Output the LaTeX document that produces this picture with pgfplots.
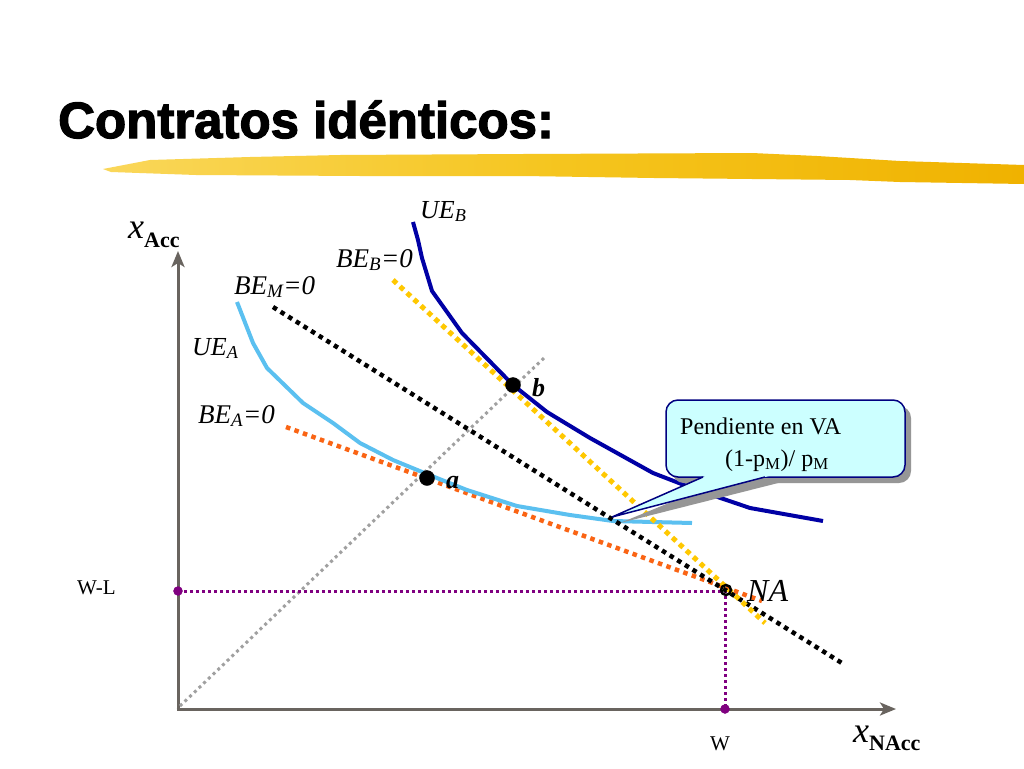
\documentclass[border=0pt]{standalone}
\usepackage{fontspec}
\setmainfont{Liberation Serif}
\newfontfamily\titlefont[FakeBold=2.4]{Liberation Sans}
\usepackage{pgfplots}
\pgfplotsset{compat=1.18}
\usetikzlibrary{arrows.meta}
\definecolor{axisgray}{RGB}{105,100,95}
\definecolor{ueA}{RGB}{91,192,240}
\definecolor{ueB}{RGB}{0,0,165}
\definecolor{beB}{RGB}{255,200,0}
\definecolor{beA}{RGB}{250,100,20}
\definecolor{purp}{RGB}{128,0,128}
\definecolor{diag}{RGB}{160,160,160}
\definecolor{callfill}{RGB}{204,255,255}
\definecolor{callnavy}{RGB}{0,0,128}
\definecolor{shadowgray}{RGB}{150,150,150}
\definecolor{brushL}{RGB}{250,215,90}
\definecolor{brushM}{RGB}{245,197,30}
\definecolor{brushR}{RGB}{240,178,0}
\begin{document}
\begin{tikzpicture}
\begin{axis}[width=1024pt,height=768pt,scale only axis,
  xmin=0,xmax=1024,ymin=0,ymax=768,y dir=reverse,hide axis,clip=false]
% background
\addplot[fill=white,draw=none] coordinates {(0,0) (1024,0) (1024,768) (0,768)} -- cycle;
% brush stroke
\addplot[draw=none,left color=brushL,right color=brushR,middle color=brushM] coordinates {
(103,169) (150,160) (250,157) (340,155) (523,154) (752,153) (817,156) (900,161) (1024,165)
(1024,184) (900,182) (850,180) (654,178) (523,176) (360,176) (196,175) (111,172)} -- cycle;
% axes
\addplot[axisgray,line width=3pt,-{Stealth[length=16pt,width=13pt,inset=4pt]}] coordinates {(178,710.5) (178,251)};
\addplot[axisgray,line width=3pt,-{Stealth[length=16pt,width=13pt,inset=4pt]}] coordinates {(176.5,709) (896,709)};
% 45 degree line
\addplot[diag,line width=3pt,dash pattern=on 3pt off 3.5pt] coordinates {(180,706) (545,357)};
% W-L and W guide lines
\addplot[purp,line width=3pt,dash pattern=on 3pt off 3pt] coordinates {(178,591) (725,591) (725,709)};
% BE_A = 0
\addplot[beA,line width=4.5pt,dash pattern=on 4.5pt off 4.5pt] coordinates {(286,427) (762,601)};
% UE_A
\addplot[ueA,line width=4pt,line join=round] coordinates {
(237,302) (253,343) (267,368) (303,403) (333,423) (360,443) (393,460) (427,474) (467,490) (517,506) (570,515) (613,521) (692,523)};
% BE_M = 0
\addplot[black,line width=4.5pt,dash pattern=on 4.5pt off 4.5pt] coordinates {(273,307) (845,665)};
% BE_B = 0
\addplot[beB,line width=5pt,dash pattern=on 5pt off 4.5pt] coordinates {(393,280) (765,623)};
% UE_B
\addplot[ueB,line width=4pt,line join=round] coordinates {
(413,222) (418,240) (422,258) (432,291) (462,333) (513,385) (547,412) (590,438) (653,473) (697,490) (750,508) (823,521)};
% points
\addplot[only marks,mark=*,mark size=7.5pt,black] coordinates {(427,478) (513,385)};
\addplot[only marks,mark=o,mark size=5pt,black,mark options={line width=2.5pt}] coordinates {(726,590)};
\addplot[only marks,mark=*,mark size=4.5pt,purp] coordinates {(178,591) (725,709)};
% callout
\fill[shadowgray,rounded corners=12pt] (axis cs:672,406) rectangle (axis cs:911,483);
\fill[shadowgray] (axis cs:725,480) -- (axis cs:620,523) -- (axis cs:790,480) -- cycle;
\draw[callnavy,fill=callfill,line width=1.5pt,rounded corners=12pt] (axis cs:666,400) rectangle (axis cs:905,477);
\fill[callfill] (axis cs:718.9,470) -- (axis cs:612,517) -- (axis cs:791.8,470) -- cycle;
\draw[callnavy,line width=1.5pt,line join=miter] (axis cs:703,477) -- (axis cs:612,517) -- (axis cs:765,477);
\node[anchor=base west,inner sep=0] at (axis cs:680,434) {\fontsize{24}{28}\selectfont Pendiente en VA};
\node[anchor=base west,inner sep=0] at (axis cs:725,466) {\fontsize{24}{28}\selectfont (1-p\textsubscript{M})/ p\textsubscript{M}};
% title
\node[anchor=base west,inner sep=0] at (axis cs:58,138) {\fontsize{51}{60}\titlefont\bfseries Contratos idénticos:};
% labels
\node[anchor=base west,inner sep=0] at (axis cs:128,238) {{\fontsize{36}{40}\selectfont\itshape x}\raisebox{-9pt}{\fontsize{22}{24}\selectfont\bfseries Acc}};
\node[anchor=base west,inner sep=0] at (axis cs:853,742) {{\fontsize{36}{40}\selectfont\itshape x}\raisebox{-8pt}{\fontsize{22}{24}\selectfont\bfseries NAcc}};
\node[anchor=base west,inner sep=0] at (axis cs:77,594) {\fontsize{21}{24}\selectfont W-L};
\node[anchor=base west,inner sep=0] at (axis cs:710,750) {\fontsize{21}{24}\selectfont W};
\node[anchor=base west,inner sep=0] at (axis cs:747,601) {\fontsize{32}{36}\selectfont\itshape NA};
\node[anchor=base west,inner sep=0] at (axis cs:420,218) {\fontsize{26}{30}\selectfont\itshape UE\textsubscript{B}};
\node[anchor=base west,inner sep=0] at (axis cs:336,267) {\fontsize{27}{30}\selectfont\itshape BE\textsubscript{B}=0};
\node[anchor=base west,inner sep=0] at (axis cs:234,294) {\fontsize{27}{30}\selectfont\itshape BE\textsubscript{M}=0};
\node[anchor=base west,inner sep=0] at (axis cs:192,355) {\fontsize{26}{30}\selectfont\itshape UE\textsubscript{A}};
\node[anchor=base west,inner sep=0] at (axis cs:198,423) {\fontsize{27}{30}\selectfont\itshape BE\textsubscript{A}=0};
\node[anchor=base west,inner sep=0] at (axis cs:446,488) {\fontsize{26}{30}\selectfont\bfseries\itshape a};
\node[anchor=base west,inner sep=0] at (axis cs:532,396) {\fontsize{26}{30}\selectfont\bfseries\itshape b};
\end{axis}
\end{tikzpicture}
\end{document}
